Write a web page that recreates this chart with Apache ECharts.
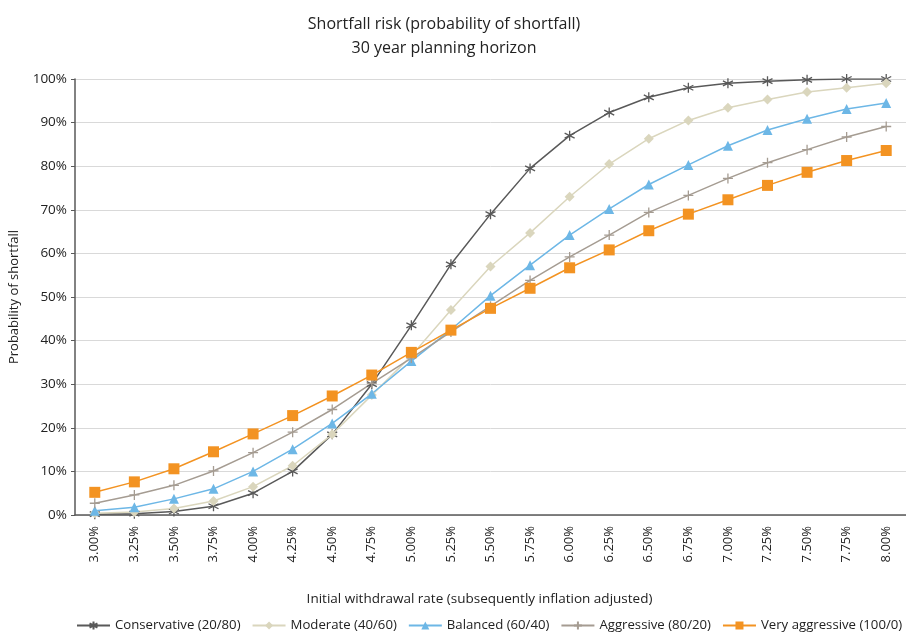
<!DOCTYPE html>
<html>
<head>
<meta charset="utf-8">
<script src="https://cdn.jsdelivr.net/npm/echarts@6/dist/echarts.min.js"></script>
<style>html,body{margin:0;padding:0;background:#fff}#c{width:906px;height:634px}</style>
</head>
<body>
<div id="c"></div>
<script>
const categories = ['3.00%','3.25%','3.50%','3.75%','4.00%','4.25%','4.50%','4.75%','5.00%','5.25%','5.50%','5.75%','6.00%','6.25%','6.50%','6.75%','7.00%','7.25%','7.50%','7.75%','8.00%'];
const conservative = [0.2,0.3,0.8,2.0,5.0,10.0,18.5,30.0,43.5,57.5,69.0,79.5,87.0,92.3,95.8,98.0,99.0,99.5,99.8,100,100];
const moderate = [0.4,0.7,1.5,3.2,6.5,11.3,18.5,27.5,36.5,47.0,57.0,64.7,73.0,80.5,86.3,90.5,93.4,95.3,97.0,98.0,99.0];
const balanced = [1.0,1.8,3.7,6.0,10.0,15.1,21.0,27.8,35.3,42.5,50.3,57.3,64.2,70.2,75.8,80.3,84.7,88.3,90.9,93.1,94.5];
const aggressive = [2.7,4.6,6.8,10.1,14.3,19.0,24.2,30.2,36.0,42.0,47.9,53.8,59.2,64.2,69.4,73.3,77.2,80.8,83.8,86.7,89.1];
const veryAggressive = [5.2,7.6,10.6,14.5,18.6,22.8,27.3,32.1,37.3,42.4,47.4,52.0,56.7,60.8,65.2,69.0,72.3,75.6,78.6,81.3,83.6];
const seriesNames = ['Conservative (20/80)','Moderate (40/60)','Balanced (60/40)','Aggressive (80/20)','Very aggressive (100/0)'];
const yTicks = [0,10,20,30,40,50,60,70,80,90,100];

const FONT = '"Open Sans", "Noto Sans", sans-serif';
const chart = echarts.init(document.getElementById('c'), null, {renderer:'canvas'});
const asterisk = 'path://M5,0L5,10M0.67,2.5L9.33,7.5M9.33,2.5L0.67,7.5';
const plus = 'path://M5,0L5,10M0,5L10,5';

function mk(name, data, color, symbol, size, strokeSym){
  const s = {
    name, type:'line', data, symbol, symbolSize:size, showSymbol:true,
    lineStyle:{color, width:1.5},
    itemStyle:{color},
    emphasis:{disabled:true},
    animation:false
  };
  if (strokeSym) s.itemStyle = {color:'none', borderColor:color, borderWidth:1.3};
  return s;
}

chart.setOption({
  animation:false,
  textStyle:{fontFamily:FONT},
  title:{
    text:'Shortfall risk (probability of shortfall)\n30 year planning horizon',
    left:439, top:7, textAlign:'center',
    textStyle:{fontFamily:FONT, fontSize:16, fontWeight:'normal', color:'#222', lineHeight:24}
  },
  grid:{left:71, top:79, width:842, height:436, containLabel:false},
  legend:{
    top:619, left:76, width:835, padding:0,
    itemWidth:33, itemHeight:10, itemGap:11,
    textStyle:{fontFamily:FONT, fontSize:13.2, color:'#222'},
    data:seriesNames
  },
  xAxis:{
    type:'category', data:categories, boundaryGap:true,
    name:'Initial withdrawal rate (subsequently inflation adjusted)',
    nameLocation:'middle', nameGap:77,
    nameTextStyle:{fontFamily:FONT, fontSize:13.5, color:'#222', padding:[0,22,0,0]},
    axisLine:{lineStyle:{color:'#595959', width:1.5}},
    axisTick:{show:false},
    axisLabel:{rotate:90, fontSize:13, color:'#222', fontFamily:FONT, margin:11, interval:0}
  },
  yAxis:{
    type:'value', min:0, max:100, interval:10,
    name:'Probability of shortfall', nameLocation:'middle', nameGap:54,
    nameTextStyle:{fontFamily:FONT, fontSize:13, color:'#222'},
    axisLine:{show:true, lineStyle:{color:'#595959', width:1.5}},
    axisTick:{show:true, length:4, lineStyle:{color:'#595959'}},
    axisLabel:{formatter:v=>v+'%', fontSize:13.5, color:'#222', fontFamily:FONT, margin:8},
    splitLine:{lineStyle:{color:'#d9d9d9', width:1}}
  },
  series:[
    mk(seriesNames[0], conservative, '#595959', asterisk, 10, true),
    mk(seriesNames[1], moderate, '#DAD6BD', 'diamond', 10),
    mk(seriesNames[2], balanced, '#6DB7E6', 'triangle', 10),
    mk(seriesNames[3], aggressive, '#A59C92', plus, 10, true),
    mk(seriesNames[4], veryAggressive, '#F39322', 'rect', 11)
  ]
});
</script>
</body>
</html>
